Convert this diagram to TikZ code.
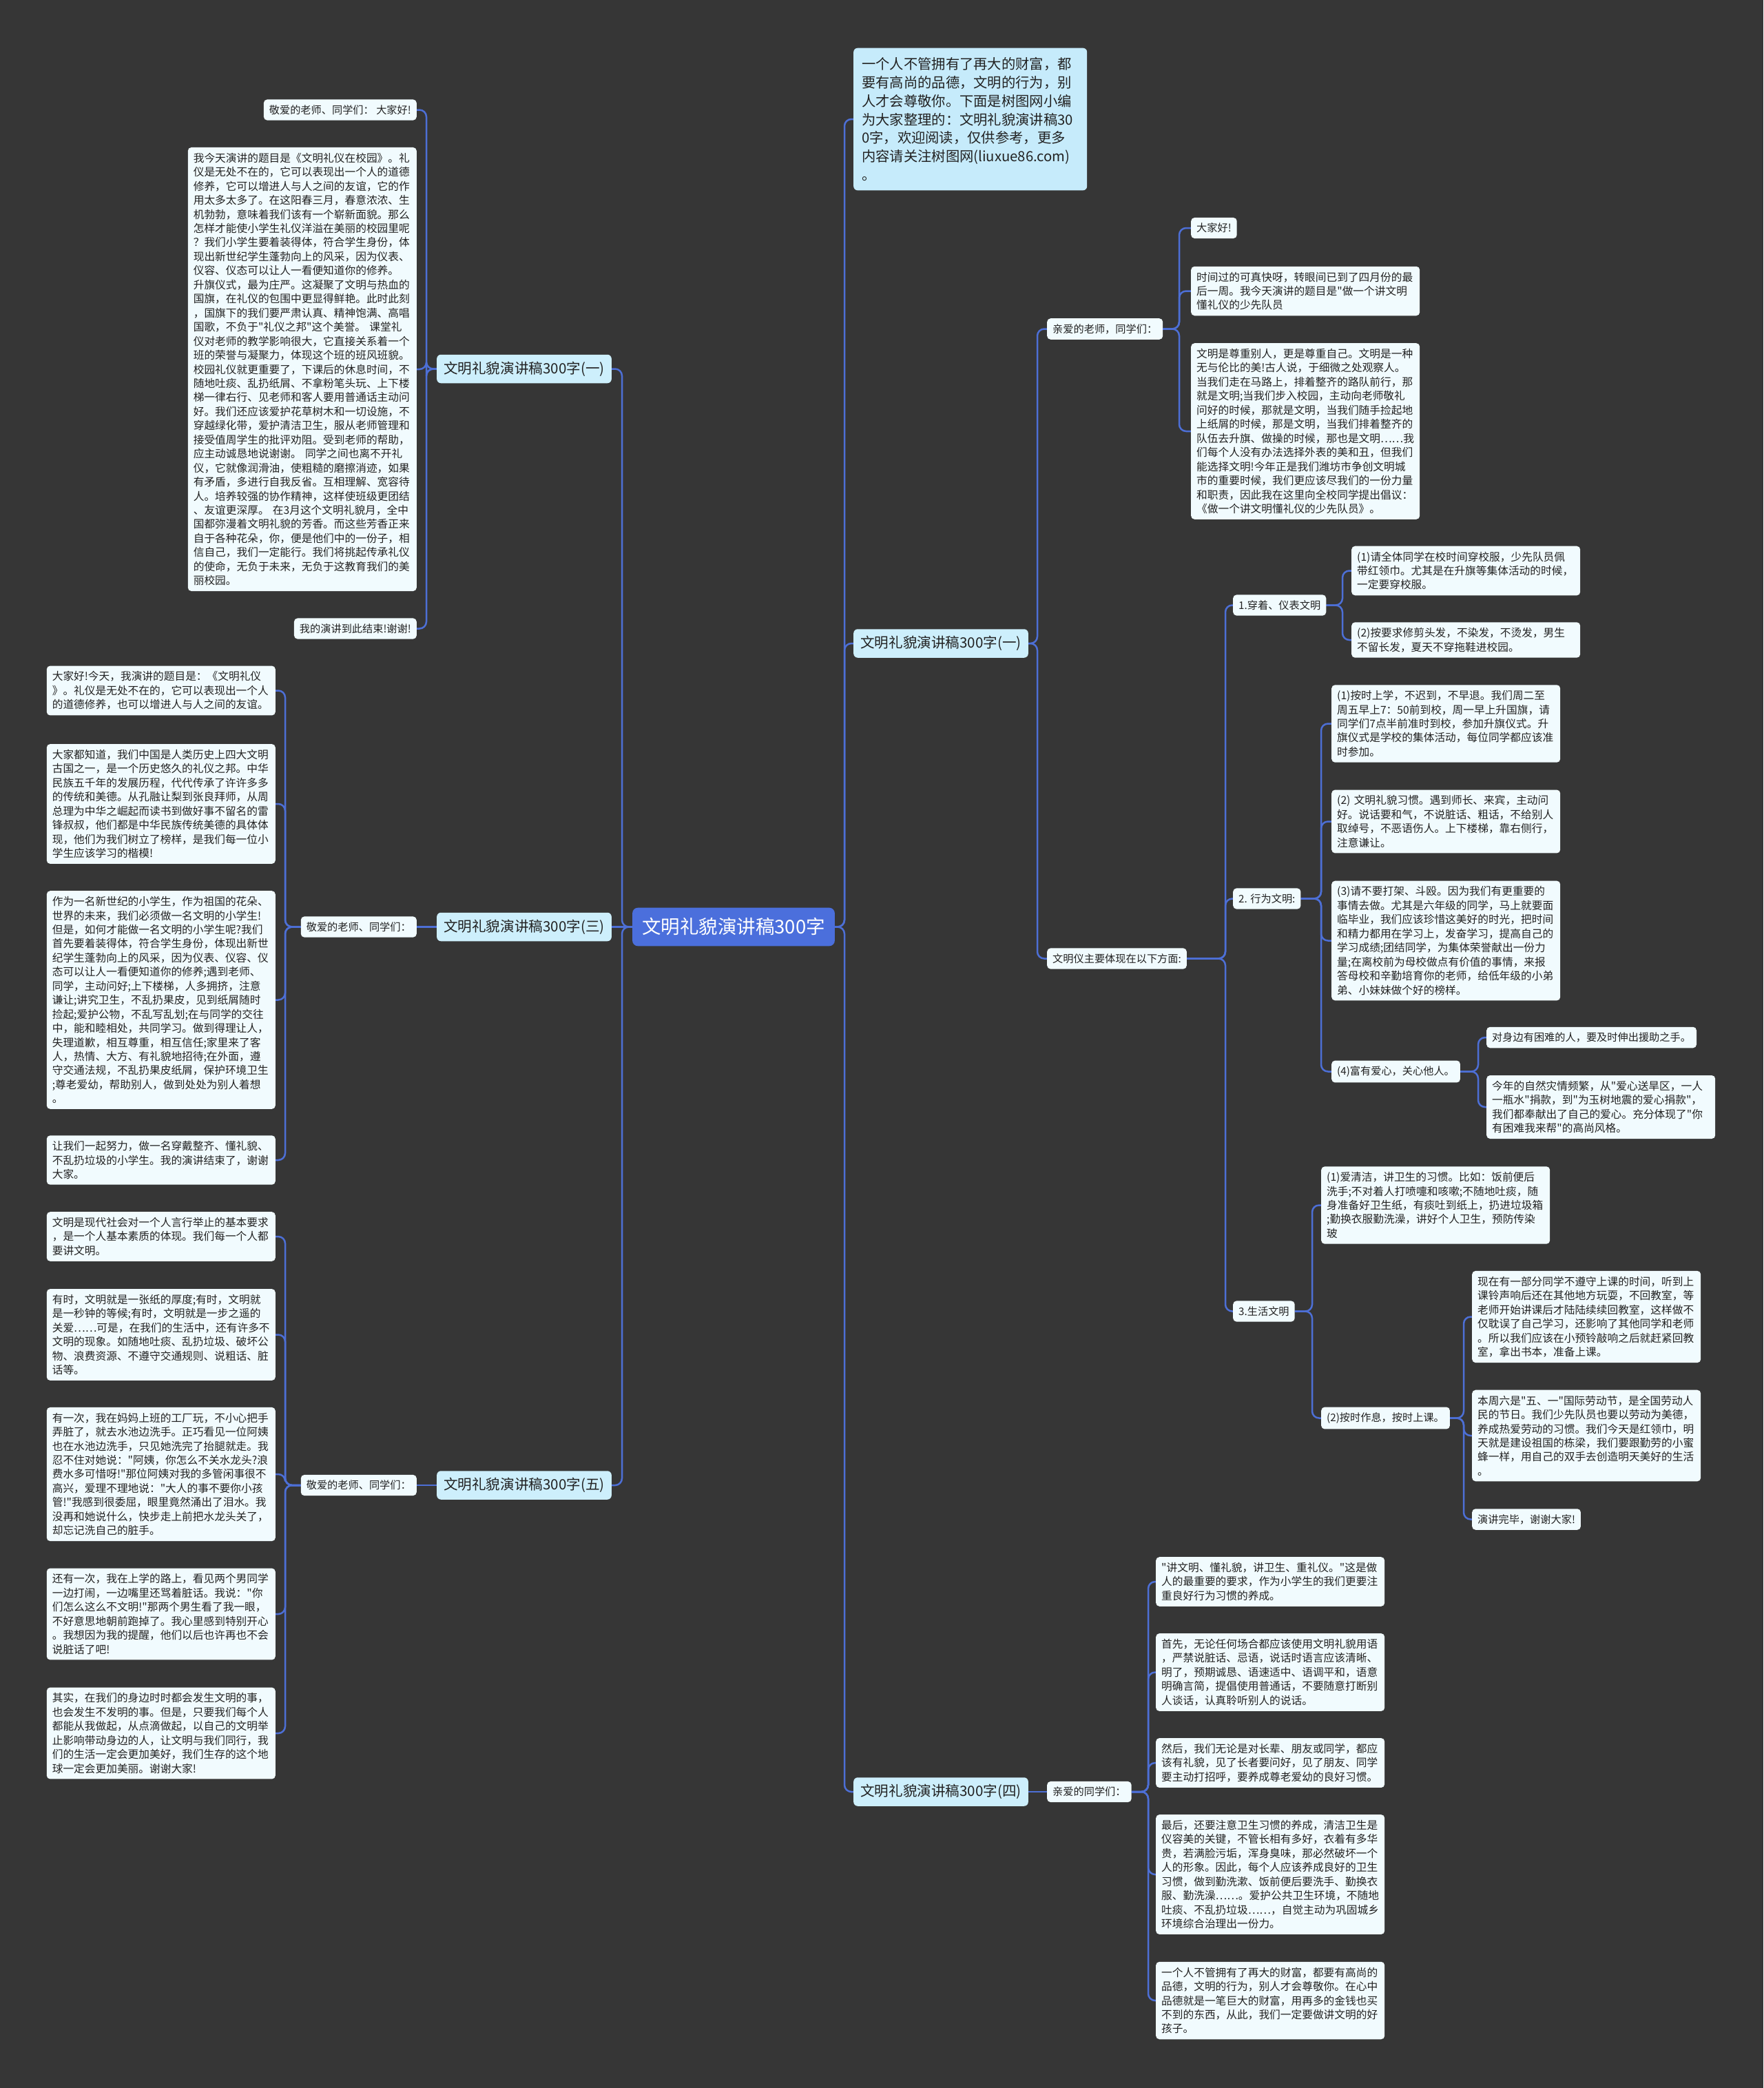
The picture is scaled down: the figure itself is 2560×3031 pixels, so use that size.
\documentclass[tikz,border=0pt]{standalone}
\usepackage{fontspec}
\newfontfamily\cjk{Noto Sans CJK SC}
\usetikzlibrary{calc}
\definecolor{bgc}{HTML}{363636}
\definecolor{linec}{HTML}{4D6FD6}
\definecolor{leaffill}{HTML}{F1FBFE}
\definecolor{branchfill}{HTML}{CDEFFC}
\definecolor{introfill}{HTML}{C6EBFB}
\definecolor{rootfill}{HTML}{4B6FDC}
\definecolor{txt}{HTML}{222222}
\pgfdeclarelayer{back}\pgfdeclarelayer{lines}
\pgfsetlayers{back,lines,main}
\tikzset{
 leaf/.style={fill=leaffill, rounded corners=5pt, text=txt, font=\cjk\fontsize{15.2}{20.45}\selectfont, inner xsep=8pt, inner ysep=8pt, align=left},
 para/.style={leaf, text width=316pt, font=\cjk\fontsize{15.7}{20.45}\selectfont},
 branch/.style={fill=branchfill, rounded corners=6pt, text=txt, font=\cjk\fontsize{20.6}{26}\selectfont, inner xsep=10pt, inner ysep=10pt},
 intro/.style={fill=introfill, rounded corners=6pt, text=txt, font=\cjk\fontsize{20.3}{26.7}\selectfont, inner xsep=12pt, inner ysep=14pt, align=left, text width=315pt},
 root/.style={fill=rootfill, rounded corners=8pt, text=white, font=\cjk\fontsize{27.5}{32}\selectfont, inner xsep=14pt, inner ysep=15pt},
 conn/.style={draw=linec, line width=2.5pt, rounded corners=10pt},
}
\newcommand\rlink[3]{\coordinate (T) at (#3,0); \draw[conn] (#1.east) -- (#1.east -| T) |- (#2.west);}
\newcommand\llink[3]{\coordinate (T) at (#3,0); \draw[conn] (#1.west) -- (#1.west -| T) |- (#2.east);}
\begin{document}
\begin{tikzpicture}[x=1pt,y=-1pt]
\begin{pgfonlayer}{back}
\fill[bgc] (0,0) rectangle (2560,3031);
\end{pgfonlayer}
\useasboundingbox (0,0) rectangle (2560,3031);

% root
\node[root] (root) at (1065,1345.5) {文明礼貌演讲稿300字};

% left branches
\node[branch, anchor=east] (L1) at (888,535.5) {文明礼貌演讲稿300字(一)};
\node[branch, anchor=east] (L3) at (888,1345.5) {文明礼貌演讲稿300字(三)};
\node[branch, anchor=east] (L5) at (888,2156) {文明礼貌演讲稿300字(五)};

% right branches
\node[intro, anchor=west] (R0) at (1239,173) {一个人不管拥有了再大的财富，都\\
要有高尚的品德，文明的行为，别\\
人才会尊敬你。下面是树图网小编\\
为大家整理的：文明礼貌演讲稿30\\
0字，欢迎阅读，仅供参考，更多\\
内容请关注树图网(liuxue86.com)\\
。};
\node[branch, anchor=west] (R1) at (1239,934) {文明礼貌演讲稿300字(一)};
\node[branch, anchor=west] (R4) at (1239,2601) {文明礼貌演讲稿300字(四)};

% L1 children
\node[leaf, anchor=east] (L1a) at (605,159.5) {敬爱的老师、同学们： 大家好!};
\node[para, anchor=east] (L1b) at (605,536) {我今天演讲的题目是《文明礼仪在校园》。礼\\
仪是无处不在的，它可以表现出一个人的道德\\
修养，它可以增进人与人之间的友谊，它的作\\
用太多太多了。在这阳春三月，春意浓浓、生\\
机勃勃，意味着我们该有一个崭新面貌。那么\\
怎样才能使小学生礼仪洋溢在美丽的校园里呢\\
？我们小学生要着装得体，符合学生身份，体\\
现出新世纪学生蓬勃向上的风采，因为仪表、\\
仪容、仪态可以让人一看便知道你的修养。\\
升旗仪式，最为庄严。这凝聚了文明与热血的\\
国旗，在礼仪的包围中更显得鲜艳。此时此刻\\
，国旗下的我们要严肃认真、精神饱满、高唱\\
国歌，不负于"礼仪之邦"这个美誉。 课堂礼\\
仪对老师的教学影响很大，它直接关系着一个\\
班的荣誉与凝聚力，体现这个班的班风班貌。\\
校园礼仪就更重要了，下课后的休息时间，不\\
随地吐痰、乱扔纸屑、不拿粉笔头玩、上下楼\\
梯一律右行、见老师和客人要用普通话主动问\\
好。我们还应该爱护花草树木和一切设施，不\\
穿越绿化带，爱护清洁卫生，服从老师管理和\\
接受值周学生的批评劝阻。受到老师的帮助，\\
应主动诚恳地说谢谢。 同学之间也离不开礼\\
仪，它就像润滑油，使粗糙的磨擦消迹，如果\\
有矛盾，多进行自我反省。互相理解、宽容待\\
人。培养较强的协作精神，这样使班级更团结\\
、友谊更深厚。 在3月这个文明礼貌月，全中\\
国都弥漫着文明礼貌的芳香。而这些芳香正来\\
自于各种花朵，你，便是他们中的一份子，相\\
信自己，我们一定能行。我们将挑起传承礼仪\\
的使命，无负于未来，无负于这教育我们的美\\
丽校园。};
\node[leaf, anchor=east] (L1c) at (605,912.5) {我的演讲到此结束!谢谢!};

% L3 children
\node[leaf, anchor=east] (L3h) at (605,1345.5) {敬爱的老师、同学们：};
\node[para, anchor=east] (L3a) at (400,1002.5) {大家好!今天，我演讲的题目是：《文明礼仪\\
》。礼仪是无处不在的，它可以表现出一个人\\
的道德修养，也可以增进人与人之间的友谊。};
\node[para, anchor=east] (L3b) at (400,1167) {大家都知道，我们中国是人类历史上四大文明\\
古国之一，是一个历史悠久的礼仪之邦。中华\\
民族五千年的发展历程，代代传承了许许多多\\
的传统和美德。从孔融让梨到张良拜师，从周\\
总理为中华之崛起而读书到做好事不留名的雷\\
锋叔叔，他们都是中华民族传统美德的具体体\\
现，他们为我们树立了榜样，是我们每一位小\\
学生应该学习的楷模!};
\node[para, anchor=east] (L3c) at (400,1451.5) {作为一名新世纪的小学生，作为祖国的花朵、\\
世界的未来，我们必须做一名文明的小学生!\\
但是，如何才能做一名文明的小学生呢?我们\\
首先要着装得体，符合学生身份，体现出新世\\
纪学生蓬勃向上的风采，因为仪表、仪容、仪\\
态可以让人一看便知道你的修养;遇到老师、\\
同学，主动问好;上下楼梯，人多拥挤，注意\\
谦让;讲究卫生，不乱扔果皮，见到纸屑随时\\
捡起;爱护公物，不乱写乱划;在与同学的交往\\
中，能和睦相处，共同学习。做到得理让人，\\
失理道歉，相互尊重，相互信任;家里来了客\\
人，热情、大方、有礼貌地招待;在外面，遵\\
守交通法规，不乱扔果皮纸屑，保护环境卫生\\
;尊老爱幼，帮助别人，做到处处为别人着想\\
。};
\node[para, anchor=east] (L3d) at (400,1684) {让我们一起努力，做一名穿戴整齐、懂礼貌、\\
不乱扔垃圾的小学生。我的演讲结束了，谢谢\\
大家。};

% L5 children
\node[leaf, anchor=east] (L5h) at (605,2156) {敬爱的老师、同学们：};
\node[para, anchor=east] (L5a) at (400,1795) {文明是现代社会对一个人言行举止的基本要求\\
，是一个人基本素质的体现。我们每一个人都\\
要讲文明。};
\node[para, anchor=east] (L5b) at (400,1937.5) {有时，文明就是一张纸的厚度;有时，文明就\\
是一秒钟的等候;有时，文明就是一步之遥的\\
关爱……可是，在我们的生活中，还有许多不\\
文明的现象。如随地吐痰、乱扔垃圾、破坏公\\
物、浪费资源、不遵守交通规则、说粗话、脏\\
话等。};
\node[para, anchor=east] (L5c) at (400,2140) {有一次，我在妈妈上班的工厂玩，不小心把手\\
弄脏了，就去水池边洗手。正巧看见一位阿姨\\
也在水池边洗手，只见她洗完了抬腿就走。我\\
忍不住对她说："阿姨，你怎么不关水龙头?浪\\
费水多可惜呀!"那位阿姨对我的多管闲事很不\\
高兴，爱理不理地说："大人的事不要你小孩\\
管!"我感到很委屈，眼里竟然涌出了泪水。我\\
没再和她说什么，快步走上前把水龙头关了，\\
却忘记洗自己的脏手。};
\node[para, anchor=east] (L5d) at (400,2343) {还有一次，我在上学的路上，看见两个男同学\\
一边打闹，一边嘴里还骂着脏话。我说："你\\
们怎么这么不文明!"那两个男生看了我一眼，\\
不好意思地朝前跑掉了。我心里感到特别开心\\
。我想因为我的提醒，他们以后也许再也不会\\
说脏话了吧!};
\node[para, anchor=east] (L5e) at (400,2516) {其实，在我们的身边时时都会发生文明的事，\\
也会发生不发明的事。但是，只要我们每个人\\
都能从我做起，从点滴做起，以自己的文明举\\
止影响带动身边的人，让文明与我们同行，我\\
们的生活一定会更加美好，我们生存的这个地\\
球一定会更加美丽。谢谢大家!};

% R1 children
\node[leaf, anchor=west] (R1a) at (1520,477.5) {亲爱的老师，同学们：};
\node[leaf, anchor=west] (R1a1) at (1729,331) {大家好!};
\node[para, anchor=west] (R1a2) at (1729,422.5) {时间过的可真快呀，转眼间已到了四月份的最\\
后一周。我今天演讲的题目是"做一个讲文明\\
懂礼仪的少先队员};
\node[para, anchor=west] (R1a3) at (1729,626) {文明是尊重别人，更是尊重自己。文明是一种\\
无与伦比的美!古人说，于细微之处观察人。\\
当我们走在马路上，排着整齐的路队前行，那\\
就是文明;当我们步入校园，主动向老师敬礼\\
问好的时候，那就是文明，当我们随手捡起地\\
上纸屑的时候，那是文明，当我们排着整齐的\\
队伍去升旗、做操的时候，那也是文明……我\\
们每个人没有办法选择外表的美和丑，但我们\\
能选择文明!今年正是我们潍坊市争创文明城\\
市的重要时候，我们更应该尽我们的一份力量\\
和职责，因此我在这里向全校同学提出倡议：\\
《做一个讲文明懂礼仪的少先队员》。};
\node[leaf, anchor=west] (R1b) at (1520,1391.5) {文明仪主要体现在以下方面:};

\node[leaf, anchor=west] (W1) at (1790,878.5) {1.穿着、仪表文明};
\node[para, anchor=west] (W11) at (1962,828.5) {(1)请全体同学在校时间穿校服，少先队员佩\\
带红领巾。尤其是在升旗等集体活动的时候，\\
一定要穿校服。};
\node[para, anchor=west] (W12) at (1962,929) {(2)按要求修剪头发，不染发，不烫发，男生\\
不留长发，夏天不穿拖鞋进校园。};

\node[leaf, anchor=west] (W2) at (1790,1304.5) {2. 行为文明:};
\node[para, anchor=west] (W21) at (1933,1050.5) {(1)按时上学，不迟到，不早退。我们周二至\\
周五早上7：50前到校，周一早上升国旗，请\\
同学们7点半前准时到校，参加升旗仪式。升\\
旗仪式是学校的集体活动，每位同学都应该准\\
时参加。};
\node[para, anchor=west] (W22) at (1933,1192.5) {(2) 文明礼貌习惯。遇到师长、来宾，主动问\\
好。说话要和气，不说脏话、粗话，不给别人\\
取绰号，不恶语伤人。上下楼梯，靠右侧行，\\
注意谦让。};
\node[para, anchor=west] (W23) at (1933,1365.5) {(3)请不要打架、斗殴。因为我们有更重要的\\
事情去做。尤其是六年级的同学，马上就要面\\
临毕业，我们应该珍惜这美好的时光，把时间\\
和精力都用在学习上，发奋学习，提高自己的\\
学习成绩;团结同学，为集体荣誉献出一份力\\
量;在离校前为母校做点有价值的事情，来报\\
答母校和辛勤培育你的老师，给低年级的小弟\\
弟、小妹妹做个好的榜样。};
\node[leaf, anchor=west] (W24) at (1933,1555.5) {(4)富有爱心，关心他人。};
\node[leaf, anchor=west] (W241) at (2158,1506) {对身边有困难的人，要及时伸出援助之手。};
\node[para, anchor=west] (W242) at (2158,1607) {今年的自然灾情频繁，从"爱心送旱区，一人\\
一瓶水"捐款，到"为玉树地震的爱心捐款"，\\
我们都奉献出了自己的爱心。充分体现了"你\\
有困难我来帮"的高尚风格。};

\node[leaf, anchor=west] (W3) at (1790,1903.5) {3.生活文明};
\node[para, anchor=west] (W31) at (1918,1749.5) {(1)爱清洁，讲卫生的习惯。比如：饭前便后\\
洗手;不对着人打喷嚏和咳嗽;不随地吐痰，随\\
身准备好卫生纸，有痰吐到纸上，扔进垃圾箱\\
;勤换衣服勤洗澡，讲好个人卫生，预防传染\\
玻};
\node[leaf, anchor=west] (W32) at (1918,2058.5) {(2)按时作息，按时上课。};
\node[para, anchor=west] (W321) at (2137,1911.5) {现在有一部分同学不遵守上课的时间，听到上\\
课铃声响后还在其他地方玩耍，不回教室，等\\
老师开始讲课后才陆陆续续回教室，这样做不\\
仅耽误了自己学习，还影响了其他同学和老师\\
。所以我们应该在小预铃敲响之后就赶紧回教\\
室，拿出书本，准备上课。};
\node[para, anchor=west] (W322) at (2137,2084) {本周六是"五、一"国际劳动节，是全国劳动人\\
民的节日。我们少先队员也要以劳动为美德，\\
养成热爱劳动的习惯。我们今天是红领巾，明\\
天就是建设祖国的栋梁，我们要跟勤劳的小蜜\\
蜂一样，用自己的双手去创造明天美好的生活\\
。};
\node[leaf, anchor=west] (W323) at (2137,2205.5) {演讲完毕，谢谢大家!};

% R4 children
\node[leaf, anchor=west] (R4h) at (1520,2601) {亲爱的同学们：};
\node[para, anchor=west] (R41) at (1678,2296) {"讲文明、懂礼貌，讲卫生、重礼仪。"这是做\\
人的最重要的要求，作为小学生的我们更要注\\
重良好行为习惯的养成。};
\node[para, anchor=west] (R42) at (1678,2427.5) {首先，无论任何场合都应该使用文明礼貌用语\\
，严禁说脏话、忌语，说话时语言应该清晰、\\
明了，预期诚恳、语速适中、语调平和，语意\\
明确言简，提倡使用普通话，不要随意打断别\\
人谈话，认真聆听别人的说话。};
\node[para, anchor=west] (R43) at (1678,2559) {然后，我们无论是对长辈、朋友或同学，都应\\
该有礼貌，见了长者要问好，见了朋友、同学\\
要主动打招呼，要养成尊老爱幼的良好习惯。};
\node[para, anchor=west] (R44) at (1678,2721) {最后，还要注意卫生习惯的养成，清洁卫生是\\
仪容美的关键，不管长相有多好，衣着有多华\\
贵，若满脸污垢，浑身臭味，那必然破坏一个\\
人的形象。因此，每个人应该养成良好的卫生\\
习惯，做到勤洗漱、饭前便后要洗手、勤换衣\\
服、勤洗澡……。爱护公共卫生环境，不随地\\
吐痰、不乱扔垃圾……，自觉主动为巩固城乡\\
环境综合治理出一份力。};
\node[para, anchor=west] (R45) at (1678,2904) {一个人不管拥有了再大的财富，都要有高尚的\\
品德，文明的行为，别人才会尊敬你。在心中\\
品德就是一笔巨大的财富，用再多的金钱也买\\
不到的东西，从此，我们一定要做讲文明的好\\
孩子。};

% connectors
\begin{pgfonlayer}{lines}
\llink{root}{L1}{903}
\draw[conn] (root.west) -- (L3.east);
\llink{root}{L5}{903}
\rlink{root}{R0}{1226}
\rlink{root}{R1}{1226}
\rlink{root}{R4}{1226}

\llink{L1}{L1a}{619}
\llink{L1}{L1b}{619}
\llink{L1}{L1c}{619}

\draw[conn] (L3.west) -- (L3h.east);
\llink{L3h}{L3a}{414}
\llink{L3h}{L3b}{414}
\llink{L3h}{L3c}{414}
\llink{L3h}{L3d}{414}

\draw[conn] (L5.west) -- (L5h.east);
\llink{L5h}{L5a}{414}
\llink{L5h}{L5b}{414}
\llink{L5h}{L5c}{414}
\llink{L5h}{L5d}{414}
\llink{L5h}{L5e}{414}

\rlink{R1}{R1a}{1506}
\rlink{R1}{R1b}{1506}
\rlink{R1a}{R1a1}{1712}
\rlink{R1a}{R1a2}{1712}
\rlink{R1a}{R1a3}{1712}
\rlink{R1b}{W1}{1779}
\rlink{R1b}{W2}{1779}
\rlink{R1b}{W3}{1779}
\rlink{W1}{W11}{1949}
\rlink{W1}{W12}{1949}
\rlink{W2}{W21}{1918}
\rlink{W2}{W22}{1918}
\rlink{W2}{W23}{1918}
\rlink{W2}{W24}{1918}
\rlink{W24}{W241}{2146}
\rlink{W24}{W242}{2146}
\rlink{W3}{W31}{1905}
\rlink{W3}{W32}{1905}
\rlink{W32}{W321}{2125}
\rlink{W32}{W322}{2125}
\rlink{W32}{W323}{2125}

\draw[conn] (R4.east) -- (R4h.west);
\rlink{R4h}{R41}{1667}
\rlink{R4h}{R42}{1667}
\rlink{R4h}{R43}{1667}
\rlink{R4h}{R44}{1667}
\rlink{R4h}{R45}{1667}
\end{pgfonlayer}
\end{tikzpicture}
\end{document}
